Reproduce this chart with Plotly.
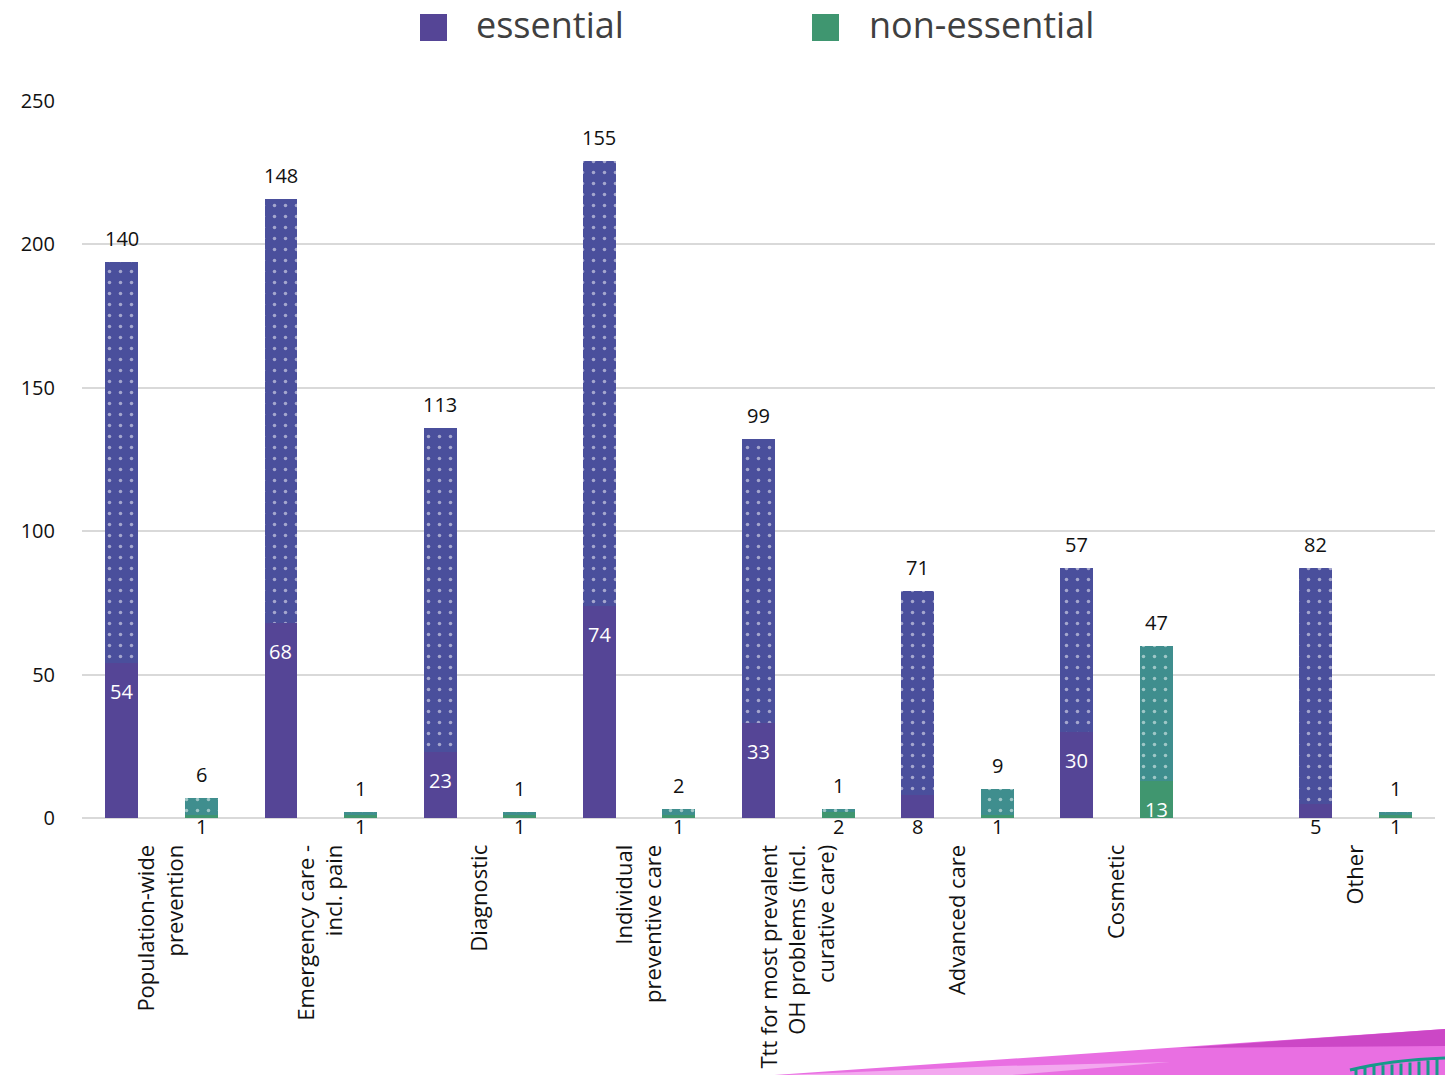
import plotly.graph_objects as go

# ---------------- data ----------------
categories = [
    "Population-wide<br>prevention",
    "Emergency care -<br>incl. pain",
    "Diagnostic",
    "Individual<br>preventive care",
    "Ttt for most prevalent<br>OH problems (incl.<br>curative care)",
    "Advanced care",
    "Cosmetic",
    "Other",
]
cat_pos = [0, 1, 2, 3, 4, 5, 6, 7.5]
ess_solid = [54, 68, 23, 74, 33, 8, 30, 5]
ess_dotted = [140, 148, 113, 155, 99, 71, 57, 82]
non_solid = [1, 1, 1, 1, 2, 1, 13, 1]
non_dotted = [6, 1, 1, 2, 1, 9, 47, 1]
y_ticks = [0, 50, 100, 150, 200, 250]
legend_names = ["essential", "non-essential"]

# ---------------- style ----------------
FONT = "Open Sans, sans-serif"
PURPLE = "#554596"
PURPLE_DOT = "#4a4f9c"
GREEN = "#40966f"
TEAL_DOT = "#3f8e8e"
LEGEND_PURPLE = "#554596"
LEGEND_GREEN = "#3f9670"
BAR_W = 0.207
OFF = 0.25

W, H = 1445, 1075
L, R, T, B = 82, 10, 101, 257
PW, PH = W - L - R, H - T - B


def px_x(px):
    return (px - L) / PW


def px_y(py):
    return (H - B - py) / PH


ess_x = [p - OFF for p in cat_pos]
non_x = [p + OFF for p in cat_pos]

dot_pattern = dict(shape=".", fgcolor="white", size=11, solidity=0.08, fillmode="overlay")

fig = go.Figure()
fig.add_trace(go.Bar(x=ess_x, y=ess_solid, width=BAR_W, name=legend_names[0],
                     marker=dict(color=PURPLE, line=dict(width=0)), showlegend=False,
                     hoverinfo="y"))
fig.add_trace(go.Bar(x=ess_x, y=ess_dotted, width=BAR_W, name=legend_names[0],
                     marker=dict(color=PURPLE_DOT, line=dict(width=0), pattern=dot_pattern),
                     showlegend=False, hoverinfo="y"))
fig.add_trace(go.Bar(x=non_x, y=non_solid, width=BAR_W, name=legend_names[1],
                     marker=dict(color=GREEN, line=dict(width=0)), showlegend=False,
                     hoverinfo="y"))
fig.add_trace(go.Bar(x=non_x, y=non_dotted, width=BAR_W, name=legend_names[1],
                     marker=dict(color=TEAL_DOT, line=dict(width=0), pattern=dot_pattern),
                     showlegend=False, hoverinfo="y"))

annotations = []
label_font = dict(family=FONT, size=20, color="#111111")


def add_labels(xs, solids, dotteds):
    for x, s, d in zip(xs, solids, dotteds):
        # solid segment label
        if s >= 10:
            annotations.append(dict(x=x, y=s, xref="x", yref="y", text=str(s), showarrow=False,
                                    yanchor="top", yshift=-13,
                                    font=dict(family=FONT, size=20, color="white")))
        else:
            annotations.append(dict(x=x, y=0, xref="x", yref="y", text=str(s), showarrow=False,
                                    yanchor="top", yshift=7, font=label_font))
        # dotted segment label above bar
        annotations.append(dict(x=x, y=s + d, xref="x", yref="y", text=str(d), showarrow=False,
                                yanchor="bottom", yshift=8, font=label_font))


add_labels(ess_x, ess_solid, ess_dotted)
add_labels(non_x, non_solid, non_dotted)

# custom legend (large squares)
shapes = []
legend_items = [
    (legend_names[0], LEGEND_PURPLE, 420, 474),
    (legend_names[1], LEGEND_GREEN, 812, 867),
]
for name, col, sq_x, tx in legend_items:
    shapes.append(dict(type="rect", xref="paper", yref="paper",
                       x0=px_x(sq_x), x1=px_x(sq_x + 27), y0=px_y(41), y1=px_y(14),
                       fillcolor=col, line=dict(width=0)))
    annotations.append(dict(x=px_x(tx), y=px_y(25), xref="paper", yref="paper", text=name,
                            showarrow=False, xanchor="left", yanchor="middle",
                            font=dict(family=FONT, size=36, color="#404040")))

# slide decoration at bottom right
def poly(points):
    return "M " + " L ".join(f"{px_x(a):.5f},{px_y(b):.5f}" for a, b in points) + " Z"


shapes.append(dict(type="path", xref="paper", yref="paper", layer="below",
                   path=poly([(760, 1076), (1445, 1029), (1445, 1076)]),
                   fillcolor="#e96fe2", line=dict(width=0)))
shapes.append(dict(type="path", xref="paper", yref="paper", layer="below",
                   path=poly([(1180, 1048), (1445, 1029), (1445, 1046)]),
                   fillcolor="#cc47c6", line=dict(width=0)))
shapes.append(dict(type="path", xref="paper", yref="paper", layer="below",
                   path=poly([(760, 1076), (1000, 1066), (1170, 1062), (1000, 1076)]),
                   fillcolor="#f3a8ef", line=dict(width=0)))
# green fence
fence = f"M {px_x(1350):.5f},{px_y(1070):.5f} Q {px_x(1390):.5f},{px_y(1060):.5f} {px_x(1445):.5f},{px_y(1058):.5f}"
for fx in range(1356, 1445, 9):
    top = 1069 - (fx - 1350) * 0.11
    fence += f" M {px_x(fx):.5f},{px_y(top):.5f} L {px_x(fx):.5f},{px_y(1076):.5f}"
shapes.append(dict(type="path", xref="paper", yref="paper", path=fence,
                   line=dict(color="#16998a", width=3)))

fig.update_layout(
    width=W, height=H, autosize=False,
    margin=dict(l=L, r=R, t=T, b=B, autoexpand=False),
    paper_bgcolor="white", plot_bgcolor="white",
    barmode="stack", bargap=0,
    showlegend=False,
    font=dict(family=FONT, color="#111111"),
    annotations=annotations, shapes=shapes,
    xaxis=dict(range=[-0.5, 8.0], tickmode="array", tickvals=cat_pos, ticktext=categories,
               tickangle=-90, tickfont=dict(family=FONT, size=22, color="#111111"),
               showgrid=False, zeroline=False, showline=False, automargin=False,
               ticks="outside", ticklen=17, tickcolor="rgba(0,0,0,0)", fixedrange=True),
    yaxis=dict(range=[0, 250], tickmode="array", tickvals=y_ticks,
               tickfont=dict(family=FONT, size=20, color="#111111"),
               showgrid=True, gridcolor="#d9d9d9", gridwidth=1.5, automargin=False,
               zeroline=True, zerolinecolor="#d9d9d9", zerolinewidth=1.5,
               showline=False, ticks="outside", ticklen=22, tickcolor="rgba(0,0,0,0)",
               fixedrange=True),
)

fig.write_html("out.html")
